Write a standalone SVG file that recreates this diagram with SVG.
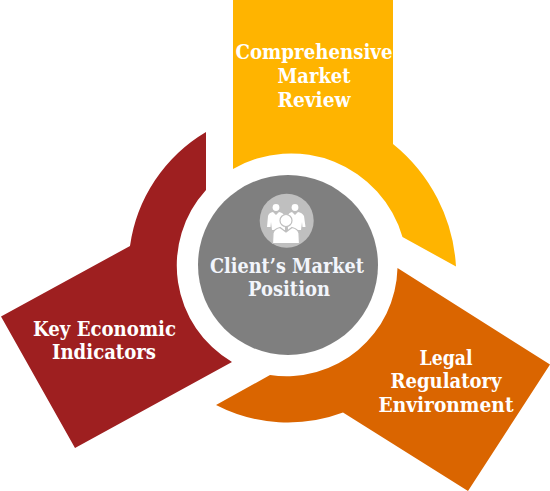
<svg xmlns="http://www.w3.org/2000/svg" width="550" height="491" viewBox="0 0 550 491">
<style>
text{font-family:"DejaVu Serif Condensed","DejaVu Serif","Liberation Serif",serif;font-weight:700;font-size:21px;fill:#fff;text-anchor:middle}
.c{fill:#f2f5fb}
.p{fill:#fff}
.b{fill:#fff;stroke:#bfbfbf;stroke-width:1.2}
</style>
<rect width="550" height="491" fill="#fff"/>
<g id="node-market-review">
<path d="M233 0H393V144A170 170 0 0 1 456 266.500L402.500 237A116 116 0 0 0 233 169Z" fill="#ffb400"/>
<text x="314" y="59" textLength="157" lengthAdjust="spacingAndGlyphs">Comprehensive</text>
<text x="314" y="83" textLength="73" lengthAdjust="spacingAndGlyphs">Market</text>
<text x="314" y="106.500" textLength="73" lengthAdjust="spacingAndGlyphs">Review</text>
</g>
<g id="node-economic">
<path d="M206 132V190A112 112 0 0 0 232 362L75 448L1 316.500L130 246A158 158 0 0 1 206 132Z" fill="#9e1f20"/>
<text x="104.500" y="336" textLength="143" lengthAdjust="spacingAndGlyphs">Key Economic</text>
<text x="104" y="359" textLength="104" lengthAdjust="spacingAndGlyphs">Indicators</text>
</g>
<g id="node-legal">
<path d="M397.500 268L550 364.500L468 491L343 412.500A157 157 0 0 1 216 405L270 375A111 111 0 0 0 397.500 268Z" fill="#da6500"/>
<text x="446" y="365" textLength="53" lengthAdjust="spacingAndGlyphs">Legal</text>
<text x="446" y="388" textLength="111" lengthAdjust="spacingAndGlyphs">Regulatory</text>
<text x="446" y="412" textLength="135" lengthAdjust="spacingAndGlyphs">Environment</text>
</g>
<g id="node-client">
<circle cx="288" cy="265" r="90" fill="#7f7f7f"/>
<circle cx="286.700" cy="220.700" r="27" fill="#bfbfbf"/>
<circle class="p" cx="276" cy="207.500" r="3.400"/>
<circle class="p" cx="295" cy="207.500" r="3.400"/>
<path class="p" d="M267 227L268 216Q269 212.500 273 212L276 215L279 212Q283 212.500 284.500 216L285 230H272L271 222L270.500 227Z"/>
<path class="p" d="M288 230L287.500 216Q289 212.500 292 212L295 215L298 212Q302 212.500 304 216L305.500 227H302.500L302 222L301 230Z"/>
<circle class="b" cx="286" cy="220.500" r="6"/>
<path class="b" d="M272.500 243.500L273 233Q274 229 280 227.500L286 232L292 227.500Q298 229 299 233L299.500 243.500Z"/>
<text class="c" x="287" y="272.500" textLength="154" lengthAdjust="spacingAndGlyphs">Client’s Market</text>
<text class="c" x="289" y="296" textLength="82" lengthAdjust="spacingAndGlyphs">Position</text>
</g>
<g id="connectors"></g>
</svg>
